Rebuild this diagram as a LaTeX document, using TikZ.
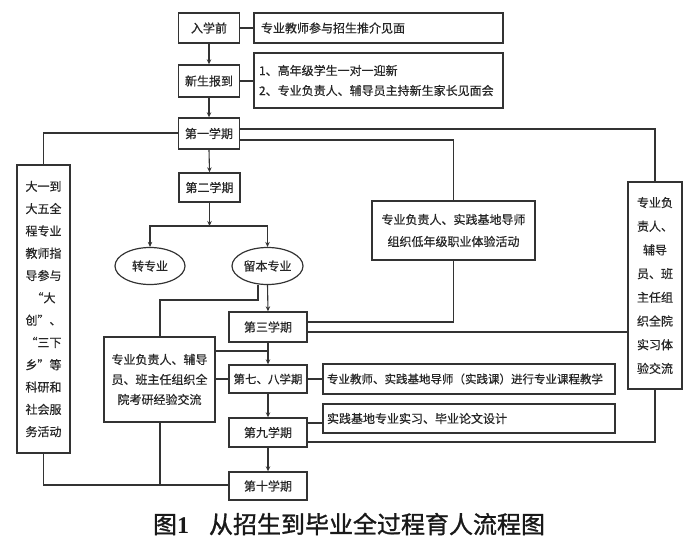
\documentclass[tikz,border=0pt]{standalone}
\usepackage{fontspec}
\setmainfont{Noto Sans CJK SC}
\newfontfamily\bxfont[FakeBold=0.6]{Noto Sans CJK SC}
\newfontfamily\capfont[FakeBold=1.2]{Noto Sans CJK SC}
\newfontfamily\capserif{Liberation Serif}
\usetikzlibrary{arrows.meta,shapes.geometric}
\definecolor{ink}{HTML}{333333}
\begin{document}
\begin{tikzpicture}[x=1pt,y=-1pt,
  box/.style={draw=ink,line width=1.4pt,inner sep=0pt,text=black!85,align=center,font=\bxfont\fontsize{12}{14}\selectfont},
  ell/.style={ellipse,draw=ink,line width=1.2pt,inner sep=0pt,text=black!85,font=\bxfont\fontsize{12}{14}\selectfont},
  conn/.style={draw=ink,line width=1.1pt},
  arr/.style={conn,-{Stealth[length=5pt,width=4.5pt]}}]
\useasboundingbox (0,0) rectangle (700,559);
% top boxes
\node[box,minimum width=61pt,minimum height=30pt] (n0) at (209,28) {入学前};
\node[box,minimum width=249pt,minimum height=30pt,text width=235pt,inner xsep=7pt,align=left] (d0) at (378.5,28) {专业教师参与招生推介见面};
\node[box,minimum width=61pt,minimum height=32pt] (n1) at (209,81) {新生报到};
\node[box,minimum width=249pt,minimum height=55pt,text width=239pt,inner xsep=5pt,align=left,font=\bxfont\fontsize{12}{20}\selectfont] (d1) at (378.5,80.5) {1、高年级学生一对一迎新\\2、专业负责人、辅导员主持新生家长见面会};
\node[box,minimum width=61pt,minimum height=31pt] (s1) at (209,133.5) {第一学期};
\node[box,minimum width=61pt,minimum height=29pt] (s2) at (209.5,187.5) {第二学期};
\node[ell,minimum width=70pt,minimum height=37pt] (e1) at (150,266) {转专业};
\node[ell,minimum width=71pt,minimum height=37pt] (e2) at (267.5,266) {留本专业};
\node[box,minimum width=78pt,minimum height=30pt] (s3) at (268,327) {第三学期};
\node[box,minimum width=111pt,minimum height=85pt,font=\bxfont\fontsize{12}{20}\selectfont] (ky) at (159.5,379.5) {专业负责人、辅导\\员、班主任组织全\\院考研经验交流};
\node[box,minimum width=78pt,minimum height=28pt,font=\bxfont\fontsize{11.5}{14}\selectfont] (s78) at (268,379) {第七、八学期};
\node[box,minimum width=292pt,minimum height=30pt,text width=284pt,inner xsep=4pt,align=left,font=\bxfont\fontsize{11.5}{14}\selectfont] (d78) at (469,379) {专业教师、实践基地导师（实践课）进行专业课程教学};
\node[box,minimum width=292pt,minimum height=29pt,text width=284pt,inner xsep=4pt,align=left] (dsx) at (469,418.5) {实践基地专业实习、毕业论文设计};
\node[box,minimum width=78pt,minimum height=29pt] (s9) at (268,432.5) {第九学期};
\node[box,minimum width=78pt,minimum height=28pt] (s10) at (268,486) {第十学期};
\node[box,minimum width=53pt,minimum height=288pt,font=\bxfont\fontsize{12}{22.3}\selectfont] (L) at (43.5,309) {大一到\\大五全\\程专业\\教师指\\导参与\\“大\\创”、\\“三下\\乡”等\\科研和\\社会服\\务活动};
\node[box,minimum width=54pt,minimum height=207pt,font=\bxfont\fontsize{12}{23.7}\selectfont] (R) at (655,285.5) {专业负\\责人、\\辅导\\员、班\\主任组\\织全院\\实习体\\验交流};
\node[box,minimum width=163pt,minimum height=59pt,font=\bxfont\fontsize{12}{22}\selectfont] (M) at (453.5,230.5) {专业负责人、实践基地导师\\组织低年级职业体验活动};
% connectors
\draw[conn] (n0.east) -- (d0.west);
\draw[arr] (n0.south) -- (n1.north);
\draw[conn] (n1.east) -- (d1.west |- n1.east);
\draw[arr] (n1.south) -- (s1.north);
\draw[arr] (s1.south) -- (s2.north);
\draw[conn] (s1.west |- 0,133) -- (43.5,133) -- (L.north);
\draw[conn] (s1.east |- 0,129) -- (655,129) -- (R.north);
\draw[conn] (s1.east |- 0,140) -- (453.5,140) -- (M.north);
\coordinate (br) at (209.5,226);
\draw[arr] (s2.south) -- (br);
\draw[conn] (150,226) -- (268,226);
\draw[arr] (br) -| (e1.north);
\draw[arr] (br) -| (e2.north);
\draw[conn] (258,284.5) -- (258,300) -- (160,300) -- (ky.north -| 160,0);
\draw[arr] (e2.south) -- (s3.north);
\draw[conn] (M.south) -- (453.5,322) -- (s3.east |- 0,322);
\draw[conn] (s3.east |- 0,332) -- (R.west |- 0,332);
\draw[conn] (R.south) -- (655,442) -- (s9.east |- 0,442);
\coordinate (j78) at (268,351);
\draw[conn] (ky.east |- j78) -- (j78);
\draw[arr] (s3.south) -- (s78.north);
\draw[conn] (ky.east |- s78.west) -- (s78.west);
\draw[conn] (s78.east) -- (d78.west);
\draw[arr] (s78.south) -- (s9.north);
\draw[conn] (s9.east |- 0,423) -- (dsx.west |- 0,423);
\draw[arr] (s9.south) -- (s10.north);
\draw[conn] (L.south) -- (43.5,485) -- (s10.west |- 0,485);
\draw[conn] (ky.south -| 160,0) -- (160,485);
% caption
\node[font=\capfont\fontsize{24}{28}\selectfont,text=black!90] (cap) at (349,524) {图{\capserif\bfseries 1}\hspace{20pt}从招生到毕业全过程育人流程图};
\end{tikzpicture}
\end{document}
